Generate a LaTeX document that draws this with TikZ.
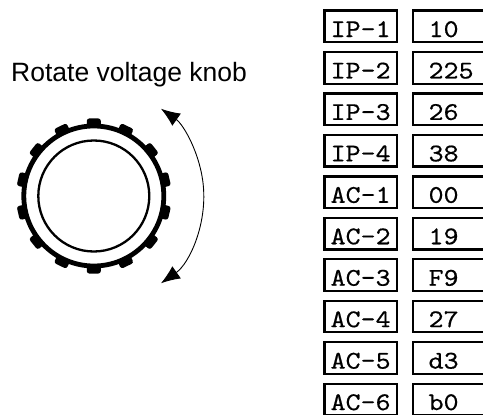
\documentclass[tikz,border=0pt]{standalone}
\usepackage{fontspec}
\newfontfamily\knobfont{Liberation Sans}
\newfontfamily\cellfont{lmmono10-regular}[Extension=.otf, FakeStretch=1.12, FakeBold=0.5]
\usetikzlibrary{arrows.meta}

\tikzset{
  cell/.style={draw, line width=2.2bp, minimum height=31.6bp, inner ysep=0pt,
    text height=21.2bp, text depth=0pt, align=left,
    font=\cellfont\fontsize{25.5bp}{30bp}\selectfont},
  keybox/.style={cell, text width=60bp, inner xsep=6.25bp},
  valbox/.style={cell, text width=69bp, inner xsep=15.5bp},
  tooth/.style={fill=black, rounded corners=2.5bp, minimum width=9.5bp,
    minimum height=14bp, inner sep=0pt},
  turn/.tip={Latex[length=19bp,width=15bp,sep=5bp]}
}

\begin{document}
\begin{tikzpicture}[x=1bp,y=1bp]
            \useasboundingbox (0,0) rectangle (483,414);
            \clip (0,0) rectangle (483,414);

            \node[anchor=base west, inner sep=0pt,
                  font=\knobfont\fontsize{26.5bp}{30bp}\selectfont]
                (title) at (11,333) {Rotate voltage knob};

            %knob
            \coordinate (knob) at (93.8,218);
            \draw[line width=4.8bp] (knob) circle[radius=70];
            \draw[line width=2.3bp] (knob) circle[radius=55.5];
            \begin{scope}[shift={(knob)}]
                \foreach \k in {0,...,13}
                    \node[tooth, rotate={90+\k*360/14}] (tooth\k)
                        at ({90+\k*360/14}:72.8) {};
            \end{scope}
            \draw[line width=0.9bp, turn-turn] ([shift={(-55:110)}]knob)
                arc[start angle=-55, end angle=55, radius=110];

            %readings
            \foreach \lab/\val [count=\i from 0] in {IP-1/10, IP-2/225, IP-3/26,
                    IP-4/38, AC-1/00, AC-2/19, AC-3/F9, AC-4/27, AC-5/d3, AC-6/b0}
            {
                \node[keybox] (key\i) at (360.65,{387.6-41.45*\i}) {\lab};
                \node[valbox] (val\i) at (463.1,{387.6-41.45*\i}) {\val};
            }
\end{tikzpicture}
\end{document}
